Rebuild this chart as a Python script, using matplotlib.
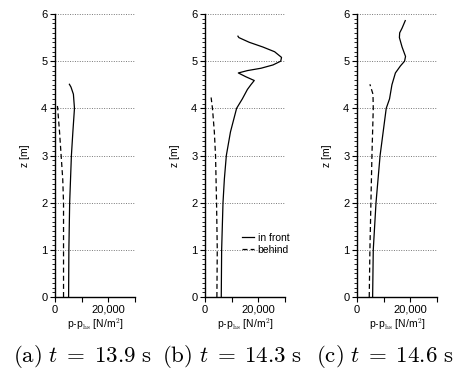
"""Pressure profiles p - p_hs over height z, in front of / behind the structure."""

import matplotlib
matplotlib.use("Agg")
import matplotlib.pyplot as plt
from matplotlib.ticker import MultipleLocator, FixedLocator, FixedFormatter

plt.rcParams["font.family"] = ["Liberation Sans", "DejaVu Sans"]
plt.rcParams["mathtext.fontset"] = "cm"

# (a) t = 13.9 s
Z_FRONT_A = [0.0, 1.0, 2.0, 3.0, 3.5, 4.0, 4.3, 4.45, 4.51]
P_FRONT_A = [5100, 5200, 5500, 6150, 6700, 7300, 6900, 6000, 5400]
Z_BEHIND_A = [0.0, 1.0, 2.0, 2.5, 3.0, 3.5, 4.0, 4.05]
P_BEHIND_A = [3200, 3200, 3200, 2900, 2300, 1700, 1000, 900]

# (b) t = 14.3 s
Z_FRONT_B = [0.0, 1.0, 2.0, 2.5, 3.0, 3.5, 4.0, 4.2, 4.4, 4.5, 4.59, 4.67, 4.75,
             4.8, 4.85, 4.92, 5.0, 5.08, 5.2, 5.3, 5.4, 5.5, 5.53]
P_FRONT_B = [6100, 6240, 6750, 7260, 8000, 9550, 11850, 14000, 15900, 17200, 18470,
             15300, 12500, 15900, 21000, 25500, 28400, 28700, 26100, 21700, 16600,
             12700, 12350]
Z_BEHIND_B = [0.0, 1.0, 2.0, 3.0, 3.5, 4.0, 4.23]
P_BEHIND_B = [4460, 4600, 4330, 3950, 3500, 2800, 2290]

# (c) t = 14.6 s
Z_FRONT_C = [0.0, 1.0, 2.0, 3.0, 4.0, 4.2, 4.5, 4.75, 4.9, 5.0, 5.1, 5.3, 5.5,
             5.6, 5.7, 5.86]
P_FRONT_C = [5860, 6100, 7130, 8660, 10960, 12200, 13100, 14400, 16300, 17840,
             18200, 16900, 15900, 16000, 16900, 18100]
Z_BEHIND_C = [0.0, 1.0, 2.0, 3.0, 4.0, 4.3, 4.51]
P_BEHIND_C = [4590, 4840, 5220, 5600, 6100, 5990, 4840]

PANELS = [
    (P_FRONT_A, Z_FRONT_A, P_BEHIND_A, Z_BEHIND_A),
    (P_FRONT_B, Z_FRONT_B, P_BEHIND_B, Z_BEHIND_B),
    (P_FRONT_C, Z_FRONT_C, P_BEHIND_C, Z_BEHIND_C),
]
LEFTS = [55, 205, 357]
CAPTIONS = [r"$\mathrm{(a)}\ t\;=\;13.9\ \mathrm{s}$",
            r"$\mathrm{(b)}\ t\;=\;14.3\ \mathrm{s}$",
            r"$\mathrm{(c)}\ t\;=\;14.6\ \mathrm{s}$"]
CAPTION_X = [82.5, 232, 384.5]

W, H = 459, 370
fig = plt.figure(figsize=(W / 100, H / 100), dpi=100)

for i, (pf, zf, pb, zb) in enumerate(PANELS):
    ax = fig.add_axes([LEFTS[i] / W, (H - 297) / H, 80 / W, 283 / H])
    for z in range(1, 7):
        ax.axhline(z, color="#777777", lw=0.7, ls=(0, (1, 1.5)), zorder=0)
    ax.plot(pf, zf, color="black", lw=0.9, label="in front")
    ax.plot(pb, zb, color="black", lw=0.9, ls=(0, (4, 2.5)), label="behind")

    ax.set_xlim(0, 30000)
    ax.set_ylim(0, 6)
    for s in ("top", "right"):
        ax.spines[s].set_visible(False)
    ax.spines["left"].set_linewidth(1.0)
    ax.spines["bottom"].set_linewidth(1.0)

    ax.xaxis.set_major_locator(FixedLocator([0, 10000, 20000, 30000]))
    ax.xaxis.set_major_formatter(FixedFormatter(["0", "", "20,000", ""]))
    ax.yaxis.set_major_locator(MultipleLocator(1))
    ax.yaxis.set_minor_locator(MultipleLocator(0.1))
    ax.tick_params(which="major", length=3.5, width=0.8, labelsize=8, pad=2)
    ax.tick_params(which="minor", length=2.2, width=0.6)

    ax.set_xlabel(r"p-p$_{\mathrm{hs}}$ [N/m$^2$]", fontsize=7.5, labelpad=1)
    ax.set_ylabel("z [m]", fontsize=7.5, labelpad=8)

    if i == 1:
        ax.legend(loc="lower right", bbox_to_anchor=(1.12, 0.13), frameon=False,
                  fontsize=7.5, handlelength=1.1, handletextpad=0.4,
                  labelspacing=0.2, borderpad=0)

    fig.text(CAPTION_X[i] / W, (H - 357) / H, CAPTIONS[i],
             ha="center", va="center", fontsize=16.5)

fig.savefig("out.png", dpi=100)
